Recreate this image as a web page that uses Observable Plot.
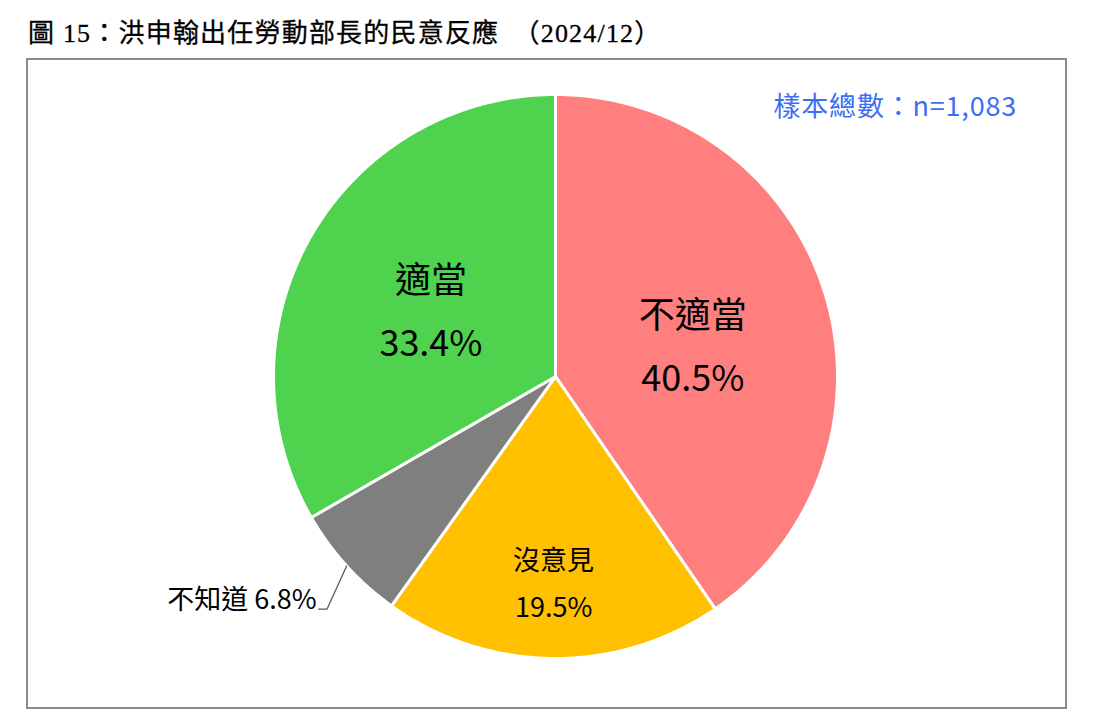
<!DOCTYPE html>
<html>
<head>
<meta charset="utf-8">
<script src="https://cdn.jsdelivr.net/npm/d3@7"></script>
<script src="https://cdn.jsdelivr.net/npm/@observablehq/plot@0.6"></script>
<style>
  html, body { margin: 0; padding: 0; background: #fff; }
  #page { position: relative; width: 1094px; height: 722px; overflow: hidden; }
  #title { height: 57px; box-sizing: border-box; padding: 19px 0 0 28px; font-family: "Liberation Serif", "DejaVu Serif", "Noto Sans CJK TC", serif; font-size: 26px; line-height: 29px; letter-spacing: 1.2px; color: #000; white-space: pre; -webkit-text-stroke: 0.3px #000; }
  #box { position: absolute; left: 26px; top: 58px; width: 1041px; height: 651px; box-sizing: border-box; border: 2px solid #8c8c8c; pointer-events: none; }
  #nsize { position: absolute; right: 77px; top: 88px; font-family: "Noto Sans CJK TC", "Noto Sans", sans-serif; font-size: 27px; line-height: 34px; letter-spacing: 0.8px; color: #3c6ef5; white-space: pre; }
  #chart svg { display: block; }
</style>
</head>
<body>
<div id="page">
  <div id="title">圖 15：洪申翰出任勞動部長的民意反應　（2024/12）</div>
  <div id="chart"></div>
  <div id="box"></div>
  <div id="nsize">樣本總數：n=1,083</div>
</div>
<script>
// ---- data ----
const categories = ["不適當", "沒意見", "不知道", "適當"];
const values = [40.5, 19.5, 6.8, 33.4];
const valueLabels = ["40.5%", "19.5%", "6.8%", "33.4%"];
const colors = ["#ff7f7f", "#ffc000", "#7f7f7f", "#4fd34f"];

// ---- geometry from data (angles clockwise from 12 o'clock) ----
const total = d3.sum(values);
const polar = (deg, r) => ({x: r * Math.sin(deg * Math.PI / 180), y: r * Math.cos(deg * Math.PI / 180)});
let acc = 0;
const slices = categories.map((c, i) => {
  const a0 = acc / total * 360;
  acc += values[i];
  const a1 = acc / total * 360;
  return {cat: c, a0, a1, mid: (a0 + a1) / 2, label: valueLabels[i]};
});

const slicePts = [];
for (const s of slices) {
  slicePts.push({cat: s.cat, ...polar(0, 0)});
  const n = Math.max(2, Math.ceil((s.a1 - s.a0) / 0.5));
  for (let k = 0; k <= n; k++) slicePts.push({cat: s.cat, ...polar(s.a0 + (s.a1 - s.a0) * k / n, 1)});
  slicePts.push({cat: s.cat, ...polar(0, 0)});
}

// label placement (layout constants)
const inside = [
  {s: slices[0], r: 0.51, size: 36, dy: 5},
  {s: slices[1], r: 0.715, size: 27, dy: 0},
  {s: slices[3], r: 0.51, size: 36, dy: 0}
].map(o => ({...polar(o.s.mid, o.r), text: o.s.cat + "\n" + o.s.label, size: o.size, off: o.dy}));

const dk = slices[2];
const p1 = polar(dk.mid, 1.0);
const p2 = polar(dk.mid - 3.3, 1.156);
const p3 = {x: p2.x - 0.03, y: p2.y};
const leader = [p1, p2, p3];
const outside = [{x: p3.x - 0.007, y: p3.y, text: dk.cat + " " + dk.label}];

const cx = 555, cy = 376 - 57, R = 282;

const plot = Plot.plot({
  width: 1094,
  height: 665,
  margin: 0,
  style: {background: "transparent", fontFamily: "'Noto Sans CJK TC', 'Noto Sans', sans-serif"},
  x: {domain: [-1, 1], range: [cx - R, cx + R], axis: null},
  y: {domain: [-1, 1], range: [cy + R, cy - R], axis: null},
  color: {domain: categories, range: colors},
  marks: [
    Plot.line(slicePts, {x: "x", y: "y", z: "cat", fill: "cat", stroke: "white", strokeWidth: 3, strokeLinejoin: "round", curve: "linear"}),
    Plot.text(inside.filter(d => d.off), {x: "x", y: "y", text: "text", fontSize: d => d.size, lineHeight: 1.75, dy: 5, fill: "#000"}),
    Plot.text(inside.filter(d => !d.off), {x: "x", y: "y", text: "text", fontSize: d => d.size, lineHeight: 1.75, fill: "#000"}),
    Plot.line(leader, {x: "x", y: "y", stroke: "#595959", strokeWidth: 1.3}),
    Plot.text(outside, {x: "x", y: "y", text: "text", textAnchor: "end", fontSize: 27, dy: -9, fill: "#000"})
  ]
});
document.getElementById("chart").appendChild(plot);
</script>
</body>
</html>
